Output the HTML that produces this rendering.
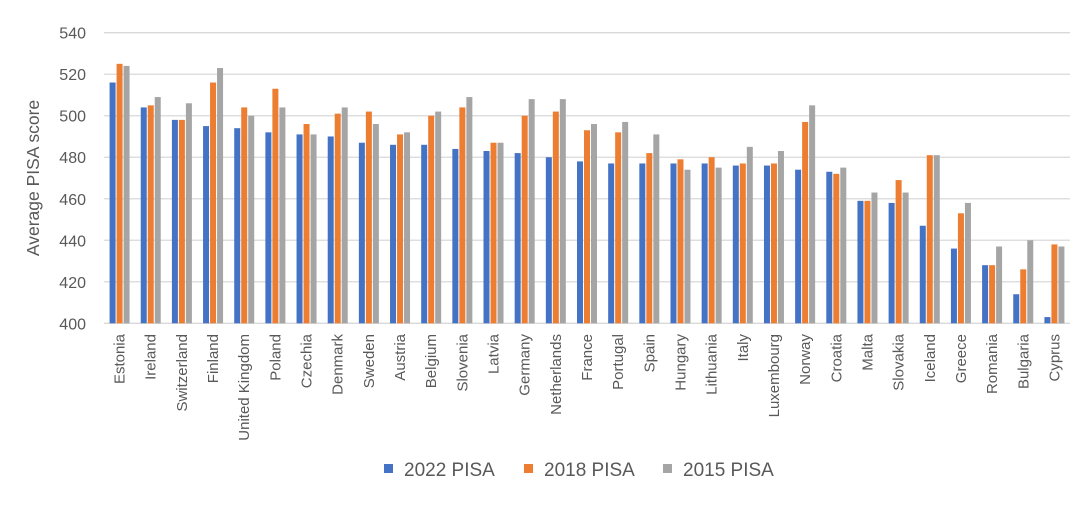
<!DOCTYPE html>
<html><head><meta charset="utf-8"><style>
body{margin:0;background:#fff;font-family:"Liberation Sans",sans-serif}
svg text{font-family:"Liberation Sans",sans-serif;fill:#595959}
</style></head><body>
<svg width="1084" height="504" xmlns="http://www.w3.org/2000/svg">
<g id="grid"></g>
<g id="yticks"></g>
<g id="bars"></g>
<g id="xlabels"></g>
<text transform="translate(39,178) rotate(-90)" text-anchor="middle" font-size="17.5">Average PISA score</text>
<g>
<g><rect x="384" y="464" width="9" height="9" fill="#4472c4"/><text x="404" y="476" font-size="19">2022 PISA</text></g>
<g><rect x="524" y="464" width="9" height="9" fill="#ed7d31"/><text x="544" y="476" font-size="19">2018 PISA</text></g>
<g><rect x="663" y="464" width="9" height="9" fill="#a5a5a5"/><text x="683" y="476" font-size="19">2015 PISA</text></g>
</g>
</svg>
<script>
const categories=["Estonia","Ireland","Switzerland","Finland","United Kingdom","Poland","Czechia","Denmark","Sweden","Austria","Belgium","Slovenia","Latvia","Germany","Netherlands","France","Portugal","Spain","Hungary","Lithuania","Italy","Luxembourg","Norway","Croatia","Malta","Slovakia","Iceland","Greece","Romania","Bulgaria","Cyprus"];
const s2022=[516,504,498,495,494,492,491,490,487,486,486,484,483,482,480,478,477,477,477,477,476,476,474,473,459,458,447,436,428,414,403];
const s2018=[525,505,498,516,504,513,496,501,502,491,500,504,487,500,502,493,492,482,479,480,477,477,497,472,459,469,481,453,428,426,438];
const s2015=[524,509,506,523,500,504,491,504,496,492,502,509,487,508,508,496,497,491,474,475,485,483,505,475,463,463,481,458,437,440,437];
const yTicks=[400,420,440,460,480,500,520,540];
const NS="http://www.w3.org/2000/svg";
const x0=104,x1=1070,yTop=32.7,yBot=323.3,vMin=400,vMax=540;
const y=v=>yBot-(v-vMin)/(vMax-vMin)*(yBot-yTop);
const step=(x1-x0)/categories.length;
const cx=i=>x0+step*(i+0.5);
function mk(t,a,p){const e=document.createElementNS(NS,t);for(const k in a)e.setAttribute(k,a[k]);p.appendChild(e);return e;}
const grid=document.getElementById('grid'),yt=document.getElementById('yticks'),bars=document.getElementById('bars'),xl=document.getElementById('xlabels');
yTicks.forEach(v=>{
 const l=mk('line',{x1:x0,x2:x1,y1:y(v),y2:y(v),stroke:'#d9d9d9','stroke-width':1.3},grid);
 
 
 const t=mk('text',{x:86,y:y(v)+6,'text-anchor':'end','font-size':16},yt);
 
 
 t.textContent=v;
});
const series=[[s2022,'#4472c4','2022'],[s2018,'#ed7d31','2018'],[s2015,'#a5a5a5','2015']];
const bw=6,gap=1;
categories.forEach((c,i)=>{
 series.forEach((s,j)=>{
  const bx=cx(i)-(3*bw+2*gap)/2+j*(bw+gap);
  const r=mk('rect',{x:bx,y:y(s[0][i]),width:bw,height:yBot-y(s[0][i]),fill:s[1]},bars);
  
  
 });
 const t=mk('text',{transform:`translate(${cx(i)+5},334) rotate(-90)`,'text-anchor':'end','font-size':15},xl);
 
 
 t.textContent=c;
});
</script>
</body></html>
